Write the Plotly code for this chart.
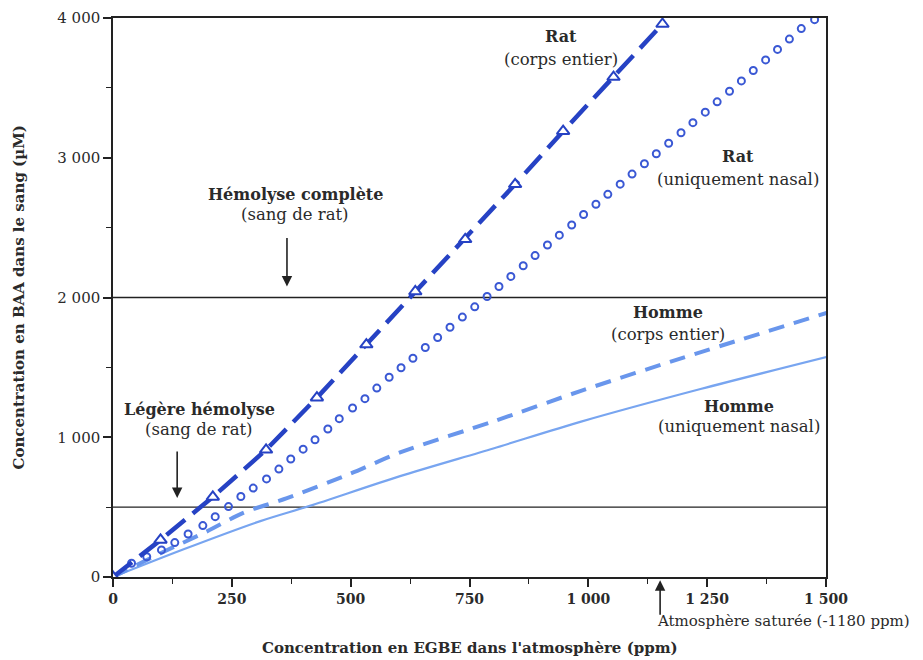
import plotly.graph_objects as go

# ---- data ----
rat_corps_x = [0, 100, 210, 322, 429, 533, 636, 741, 846, 947, 1053, 1156]
rat_corps_y = [0, 265, 573, 910, 1283, 1663, 2043, 2416, 2810, 3190, 3577, 3957]

rat_nasal_x = [0, 39, 71, 102, 130, 158, 189, 215, 243, 269, 295, 323, 349, 374, 400,
               425, 452, 476, 504, 530, 555, 581, 606, 631, 657, 683, 709, 735, 761,
               787, 812, 837, 863, 888, 914, 939, 965, 990, 1016, 1041, 1067, 1092,
               1118, 1143, 1169, 1195, 1220, 1246, 1271, 1297, 1322, 1347, 1373, 1398,
               1423, 1448, 1476]
rat_nasal_y = [0, 98, 145, 194, 246, 308, 368, 432, 504, 576, 636, 702, 772, 844, 915,
               982, 1059, 1133, 1209, 1276, 1352, 1429, 1497, 1565, 1642, 1714, 1787,
               1860, 1933, 2007, 2079, 2151, 2227, 2300, 2376, 2446, 2519, 2594, 2667,
               2738, 2811, 2883, 2957, 3029, 3104, 3179, 3251, 3326, 3400, 3476, 3550,
               3624, 3700, 3775, 3849, 3924, 3988]

homme_corps_x = [0, 100, 197, 274, 366, 500, 604, 800, 983, 1200, 1502]
homme_corps_y = [0, 170, 325, 459, 564, 740, 891, 1113, 1330, 1570, 1890]

homme_nasal_x = [0, 150, 310, 414, 604, 800, 983, 1236, 1502]
homme_nasal_y = [0, 200, 400, 509, 722, 920, 1110, 1345, 1575]

x_tickvals = [0, 250, 500, 750, 1000, 1250, 1500]
x_ticktext = ["0", "250", "500", "750", "1 000", "1 250", "1 500"]
y_tickvals = [0, 1000, 2000, 3000, 4000]
y_ticktext = ["0", "1 000", "2 000", "3 000", "4 000"]

threshold_levels = [500, 2000]

# ---- styling ----
DARK = "rgb(38,66,196)"
CIRC = "rgb(58,88,212)"
LIGHT_D = "rgb(105,150,236)"
LIGHT_S = "rgb(120,165,240)"
SERIF = "DejaVu Serif"
TXT = "#2a2a2a"
BOLD_SIZE = 16
REG_SIZE = 16.5

fig = go.Figure()

fig.add_trace(go.Scatter(
    x=homme_nasal_x, y=homme_nasal_y, mode="lines",
    line=dict(color=LIGHT_S, width=2.2, shape="spline", smoothing=0.8), showlegend=False))

fig.add_trace(go.Scatter(
    x=homme_corps_x, y=homme_corps_y, mode="lines",
    line=dict(color=LIGHT_D, width=4, dash="16px,10px", shape="spline", smoothing=0.8),
    showlegend=False))

fig.add_trace(go.Scatter(
    x=rat_nasal_x, y=rat_nasal_y, mode="markers",
    marker=dict(symbol="circle-open", size=7, color=CIRC, line=dict(width=2, color=CIRC)),
    showlegend=False))

fig.add_trace(go.Scatter(
    x=rat_corps_x, y=rat_corps_y, mode="lines+markers",
    line=dict(color=DARK, width=4.5, dash="24px,10px"),
    marker=dict(symbol="triangle-up", size=11, color="white",
                line=dict(width=2, color=DARK)),
    showlegend=False))

shapes = []
for lv in threshold_levels:
    shapes.append(dict(type="line", xref="paper", x0=0, x1=1, yref="y", y0=lv, y1=lv,
                       line=dict(color="#222", width=1.3), layer="below"))

def txt(x, y, s, bold=False):
    return dict(x=x, y=y, xref="x", yref="y", text=(f"<b>{s}</b>" if bold else s),
                showarrow=False, xanchor="center", yanchor="middle",
                font=dict(family=SERIF, size=(BOLD_SIZE if bold else REG_SIZE), color=TXT))

annotations = [
    txt(943, 3871, "Rat", True),
    txt(943, 3706, "(corps entier)"),
    txt(1314, 3011, "Rat", True),
    txt(1314, 2846, "(uniquement nasal)"),
    txt(383, 2738, "Hémolyse complète", True),
    txt(383, 2595, "(sang de rat)"),
    txt(1168, 1892, "Homme", True),
    txt(1168, 1735, "(corps entier)"),
    txt(1316, 1219, "Homme", True),
    txt(1316, 1075, "(uniquement nasal)"),
    txt(183, 1197, "Légère hémolyse", True),
    txt(181, 1054, "(sang de rat)"),
    # arrows
    dict(x=366, y=2079, xref="x", yref="y", ax=0, ay=-50, text="", showarrow=True,
         arrowhead=2, arrowsize=1.3, arrowwidth=1.6, arrowcolor="#222"),
    dict(x=135, y=566, xref="x", yref="y", ax=0, ay=-48, text="", showarrow=True,
         arrowhead=2, arrowsize=1.3, arrowwidth=1.6, arrowcolor="#222"),
    dict(x=1151, y=-0.006, xref="x", yref="paper", ax=0, ay=36, text="", showarrow=True,
         arrowhead=2, arrowsize=1.3, arrowwidth=1.6, arrowcolor="#222"),
    dict(x=1141, y=-0.0787, xref="x", yref="paper", text="Atmosphère saturée (-1180 ppm)",
         showarrow=False, xanchor="left", yanchor="middle",
         font=dict(family=SERIF, size=15, color=TXT)),
    # axis titles
    dict(x=0.5, y=-0.127, xref="paper", yref="paper", showarrow=False,
         text="<b>Concentration en EGBE dans l'atmosphère (ppm)</b>",
         xanchor="center", yanchor="middle", font=dict(family=SERIF, size=15, color=TXT)),
    dict(x=-0.1332, y=0.5, xref="paper", yref="paper", showarrow=False, textangle=-90,
         text="<b>Concentration en BAA dans le sang (µM)</b>",
         xanchor="center", yanchor="middle", font=dict(family=SERIF, size=15, color=TXT)),
]

fig.update_layout(
    width=923, height=660,
    margin=dict(l=105, r=105, t=10, b=91, autoexpand=False),
    paper_bgcolor="white", plot_bgcolor="white",
    shapes=shapes, annotations=annotations,
    font=dict(family=SERIF, color=TXT, size=15),
)

fig.update_xaxes(
    range=[0, 1500], tickvals=x_tickvals, ticktext=[f"<b>{t}</b>" for t in x_ticktext],
    showgrid=False, zeroline=False, showline=True, linecolor="#222", linewidth=1.5,
    mirror=True, ticks="outside", ticklen=8, tickwidth=1.5, tickcolor="#222",
    minor=dict(dtick=125, tick0=0, ticks="outside", ticklen=5, tickwidth=1.3, tickcolor="#222"),
    tickfont=dict(family=SERIF, size=14, color=TXT), automargin=False,
)
fig.update_yaxes(
    range=[0, 4000], tickvals=y_tickvals, ticktext=y_ticktext,
    showgrid=False, zeroline=False, showline=True, linecolor="#222", linewidth=1.5,
    mirror=True, ticks="outside", ticklen=8, tickwidth=1.5, tickcolor="#222",
    minor=dict(dtick=500, tick0=0, ticks="outside", ticklen=5, tickwidth=1.3, tickcolor="#222"),
    tickfont=dict(family=SERIF, size=15, color=TXT), automargin=False,
)

fig.write_html("out.html")
